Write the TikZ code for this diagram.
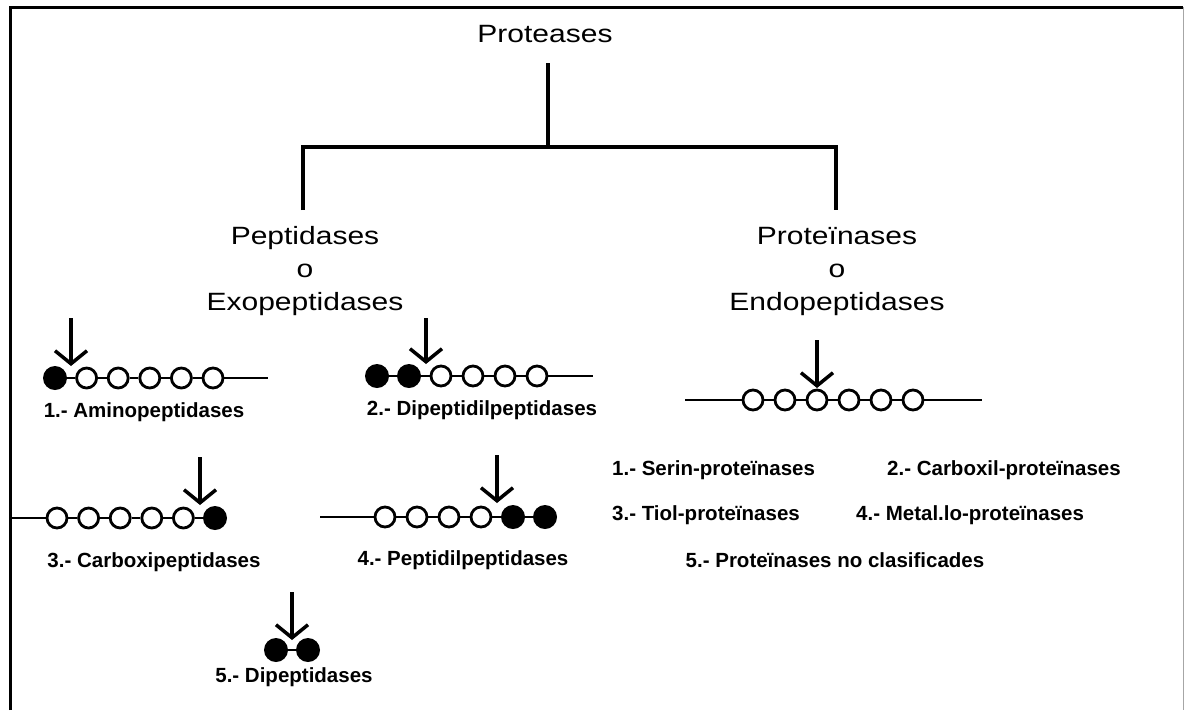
\documentclass[tikz,border=0pt]{standalone}
\usepackage{fontspec}
\setmainfont{Liberation Sans}
\newfontfamily\titlefont[FakeStretch=1.2]{Liberation Sans}
\usetikzlibrary{arrows.meta}
\begin{document}
\begin{tikzpicture}[x=1pt,y=-1pt,
  tree/.style={line width=3.5pt},
  title/.style={font=\titlefont\fontsize{25}{33}\selectfont, inner sep=0pt, align=center},
  lab/.style={font=\bfseries\fontsize{20.5}{24}\selectfont, inner sep=0pt},
  openres/.style={circle, draw, line width=2.8pt, minimum size=20pt, inner sep=0pt, fill=white},
  fullres/.style={circle, fill=black, minimum size=24pt, inner sep=0pt},
  bond/.style={line width=2.2pt},
  cut/.style={line width=3.5pt, -{Straight Barb[length=13pt,width=32pt]}},
]
\useasboundingbox (0,0) rectangle (1185,710);
% frame
\draw[line width=3pt] (10,710) -- (10,7) -- (1183,7);
\draw[line width=0.8pt, black!35] (1183,7) -- (1183,710);

% tree
\node[title] (root) at (545,34) {Proteases};
\coordinate (jtop) at (548,63);
\coordinate (jmid) at (548,147);
\coordinate (jl) at (303,147);
\coordinate (jr) at (836,147);
\coordinate (ld) at (303,210);
\coordinate (rd) at (836,210);
\draw[tree] (jtop) -- (jmid);
\draw[tree] (ld) -- (jl) -- (jr) -- (rd);
\node[title] (exo) at (305,271) {Peptidases\\o\\Exopeptidases};
\node[title] (endo) at (837,271) {Proteïnases\\o\\Endopeptidases};

% 1 Aminopeptidases
\node[fullres] (c1-1) at (55,378) {};
\foreach \i/\x in {2/86.6,3/118.2,4/149.8,5/181.4,6/213} \node[openres] (c1-\i) at (\x,378) {};
\foreach \a/\b in {1/2,2/3,3/4,4/5,5/6} \draw[bond] (c1-\a) -- (c1-\b);
\coordinate (c1-end) at (268,378);
\draw[bond] (c1-6) -- (c1-end);
\coordinate (c1-top) at (71,318); \coordinate (c1-tip) at (71,366);
\draw[cut] (c1-top) -- (c1-tip);
\node[lab] (l1) at (144,412) {1.- Aminopeptidases};

% 2 Dipeptidilpeptidases
\node[fullres] (c2-1) at (377,376) {};
\node[fullres] (c2-2) at (409,376) {};
\foreach \i/\x in {3/441,4/473,5/505,6/537} \node[openres] (c2-\i) at (\x,376) {};
\foreach \a/\b in {1/2,2/3,3/4,4/5,5/6} \draw[bond] (c2-\a) -- (c2-\b);
\coordinate (c2-end) at (593,376);
\draw[bond] (c2-6) -- (c2-end);
\coordinate (c2-top) at (426,318); \coordinate (c2-tip) at (426,364);
\draw[cut] (c2-top) -- (c2-tip);
\node[lab] (l2) at (482,410) {2.- Dipeptidilpeptidases};

% 3 Carboxipeptidases
\coordinate (c3-start) at (10,518);
\foreach \i/\x in {1/57,2/88.6,3/120.2,4/151.8,5/183.4} \node[openres] (c3-\i) at (\x,518) {};
\node[fullres] (c3-6) at (215,518) {};
\draw[bond] (c3-start) -- (c3-1);
\foreach \a/\b in {1/2,2/3,3/4,4/5,5/6} \draw[bond] (c3-\a) -- (c3-\b);
\coordinate (c3-top) at (200,457); \coordinate (c3-tip) at (200,505);
\draw[cut] (c3-top) -- (c3-tip);
\node[lab] (l3) at (154,562) {3.- Carboxipeptidases};

% 4 Peptidilpeptidases
\coordinate (c4-start) at (320,517);
\foreach \i/\x in {1/385,2/417,3/449,4/481} \node[openres] (c4-\i) at (\x,517) {};
\node[fullres] (c4-5) at (513,517) {};
\node[fullres] (c4-6) at (545,517) {};
\draw[bond] (c4-start) -- (c4-1);
\foreach \a/\b in {1/2,2/3,3/4,4/5,5/6} \draw[bond] (c4-\a) -- (c4-\b);
\coordinate (c4-top) at (497,455); \coordinate (c4-tip) at (497,503);
\draw[cut] (c4-top) -- (c4-tip);
\node[lab] (l4) at (463,560) {4.- Peptidilpeptidases};

% 5 Dipeptidases
\node[fullres] (c5-1) at (276,650) {};
\node[fullres] (c5-2) at (308,650) {};
\draw[bond] (c5-1) -- (c5-2);
\coordinate (c5-top) at (292,592); \coordinate (c5-tip) at (292,640);
\draw[cut] (c5-top) -- (c5-tip);
\node[lab] (l5) at (294,677) {5.- Dipeptidases};

% endopeptidase chain
\coordinate (c6-start) at (685,400);
\foreach \i/\x in {1/753,2/785,3/817,4/849,5/881,6/913} \node[openres] (c6-\i) at (\x,400) {};
\coordinate (c6-end) at (982,400);
\draw[bond] (c6-start) -- (c6-1);
\foreach \a/\b in {1/2,2/3,3/4,4/5,5/6} \draw[bond] (c6-\a) -- (c6-\b);
\draw[bond] (c6-6) -- (c6-end);
\coordinate (c6-top) at (817,340); \coordinate (c6-tip) at (817,388);
\draw[cut] (c6-top) -- (c6-tip);

\node[lab, anchor=west] (p1) at (612,470) {1.- Serin-proteïnases};
\node[lab, anchor=west] (p2) at (887,470) {2.- Carboxil-proteïnases};
\node[lab, anchor=west] (p3) at (612,515) {3.- Tiol-proteïnases};
\node[lab, anchor=west] (p4) at (856,515) {4.- Metal.lo-proteïnases};
\node[lab] (p5) at (835,560) {5.- Proteïnases no clasificades};
\end{tikzpicture}
\end{document}
